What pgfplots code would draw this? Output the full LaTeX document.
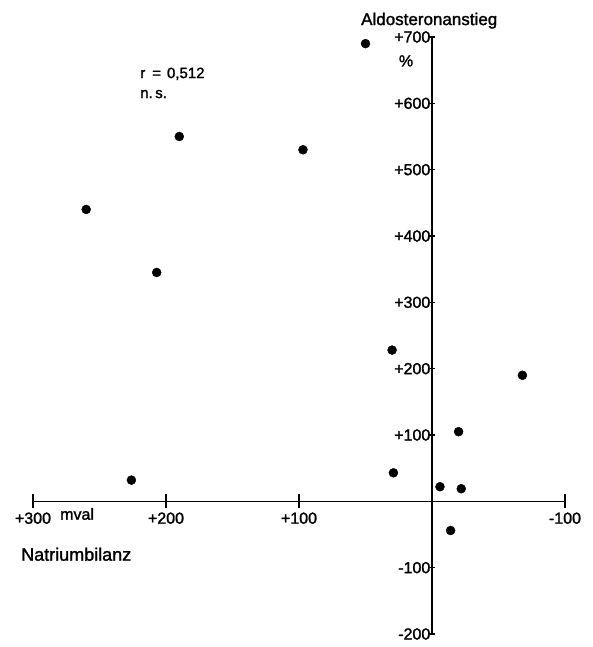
\documentclass[border=0pt]{standalone}
\usepackage{pgfplots}
\pgfplotsset{compat=1.18}
\usepackage{fontspec}
\setmainfont{Liberation Sans}[FakeBold=1.6]
\begin{document}
\begin{tikzpicture}
\useasboundingbox (-33pt,-13pt) rectangle (559pt,634pt);
\begin{axis}[
  at={(0,0)}, anchor=south west,
  scale only axis, width=532pt, height=597pt,
  x dir=reverse,
  xmin=-100, xmax=300, ymin=-200, ymax=700,
  axis lines=middle,
  axis line style={-, line width=1.6pt},
  clip=false,
  xtick=\empty,
  extra x ticks={300,200,100,-100},
  extra x tick labels={+300,+200,+100,-100},
  extra x tick style={major tick length=14pt, xticklabel style={yshift=-3pt}},
  minor xtick={250,150,50,-50},
  ytick={-200,-100,100,200,300,400,500,600,700},
  yticklabels={-200,-100,+100,+200,+300,+400,+500,+600,+700},
  yticklabel style={xshift=3pt},
  tick align=center,
  major tick length=7pt, minor tick length=6pt,
  every tick/.style={black, line width=1.3pt},
  tick label style={font=\fontsize{16}{18}\selectfont, inner sep=1pt},
  /pgf/number format/assume math mode=true,
]
\addplot[only marks, mark=*, mark size=4.5pt, black] coordinates {
  (50,690) (190,550) (97,530) (260,440) (207,345) (30,228) (-68,190)
  (-20,105) (29,43) (226,32) (-6,22) (-22,19) (-14,-44)
};
\node[anchor=base west, inner sep=0pt, font=\fontsize{17}{20}\selectfont] at (axis cs:53.4,718) {Aldosteronanstieg};
\node[anchor=center, inner sep=0pt, font=\fontsize{16}{18}\selectfont] at (axis cs:19.5,664) {\%};
\node[anchor=base west, inner sep=0pt, font=\fontsize{15}{17}\selectfont] at (axis cs:219.5,638) {r\hspace{7pt}=\hspace{6pt}0,512};
\node[anchor=base west, inner sep=0pt, font=\fontsize{15}{17}\selectfont] at (axis cs:219.5,608) {n.\,s.};
\node[anchor=base west, inner sep=0pt, font=\fontsize{18}{21}\selectfont] at (axis cs:309,-89.5) {Natriumbilanz};
\node[anchor=base west, inner sep=0pt, font=\fontsize{16}{18}\selectfont] at (axis cs:279.7,-27.7) {mval};
\end{axis}
\end{tikzpicture}
\end{document}
